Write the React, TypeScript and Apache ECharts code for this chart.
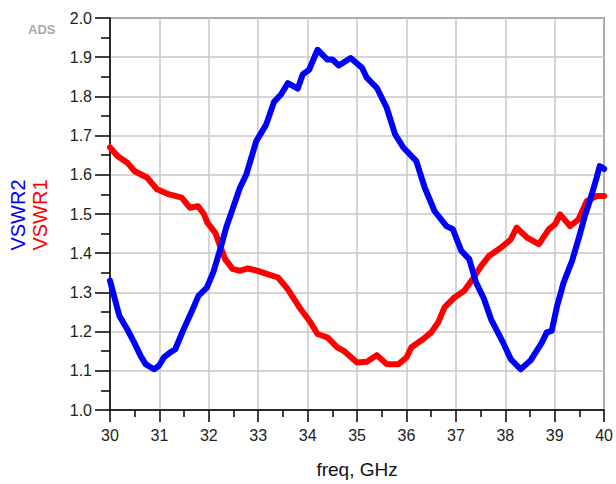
import React, { useEffect, useRef } from "react";
import * as echarts from "echarts";

const freq1 = [30.0, 30.15, 30.35, 30.5, 30.75, 30.95, 31.2, 31.45, 31.62, 31.78, 31.9, 31.97, 32.13, 32.23, 32.33, 32.48, 32.63, 32.79, 32.99, 33.2, 33.4, 33.6, 33.86, 34.06, 34.2, 34.4, 34.6, 34.73, 35.0, 35.2, 35.4, 35.6, 35.84, 36.0, 36.1, 36.34, 36.5, 36.64, 36.77, 36.97, 37.17, 37.34, 37.51, 37.67, 37.91, 38.11, 38.23, 38.44, 38.68, 38.88, 39.01, 39.11, 39.31, 39.48, 39.65, 39.85, 40.0];
const vswr1 = [1.670, 1.648, 1.631, 1.609, 1.593, 1.563, 1.550, 1.542, 1.516, 1.520, 1.500, 1.478, 1.452, 1.418, 1.385, 1.360, 1.355, 1.361, 1.355, 1.346, 1.338, 1.308, 1.257, 1.223, 1.194, 1.185, 1.160, 1.151, 1.121, 1.123, 1.140, 1.117, 1.117, 1.134, 1.160, 1.181, 1.198, 1.223, 1.262, 1.287, 1.304, 1.334, 1.367, 1.393, 1.414, 1.435, 1.465, 1.440, 1.423, 1.461, 1.474, 1.499, 1.469, 1.486, 1.533, 1.546, 1.546];

const freq2 = [30.0, 30.09, 30.19, 30.35, 30.49, 30.62, 30.72, 30.89, 30.99, 31.09, 31.22, 31.32, 31.49, 31.66, 31.79, 31.96, 32.09, 32.23, 32.36, 32.48, 32.63, 32.76, 32.96, 33.16, 33.32, 33.46, 33.6, 33.8, 33.9, 34.03, 34.2, 34.4, 34.5, 34.63, 34.87, 35.1, 35.2, 35.4, 35.6, 35.77, 35.94, 36.2, 36.37, 36.57, 36.81, 36.94, 37.11, 37.27, 37.41, 37.57, 37.71, 37.94, 38.11, 38.31, 38.51, 38.74, 38.84, 38.94, 39.05, 39.18, 39.35, 39.48, 39.61, 39.71, 39.85, 39.91, 40.0];
const vswr2 = [1.330, 1.287, 1.240, 1.206, 1.172, 1.138, 1.117, 1.104, 1.113, 1.134, 1.147, 1.155, 1.206, 1.253, 1.291, 1.312, 1.351, 1.410, 1.469, 1.512, 1.567, 1.601, 1.686, 1.728, 1.786, 1.805, 1.834, 1.820, 1.856, 1.868, 1.919, 1.894, 1.894, 1.879, 1.898, 1.873, 1.847, 1.822, 1.771, 1.703, 1.669, 1.635, 1.567, 1.507, 1.469, 1.461, 1.406, 1.385, 1.325, 1.283, 1.232, 1.176, 1.130, 1.104, 1.126, 1.172, 1.198, 1.202, 1.266, 1.325, 1.380, 1.435, 1.495, 1.533, 1.593, 1.622, 1.615];

const seriesNames = ["VSWR1", "VSWR2"];
const xTitle = "freq, GHz";

export default function App() {
  const ref = useRef<HTMLDivElement>(null);
  useEffect(() => {
    if (!ref.current) return;
    const chart = echarts.init(ref.current, null, { renderer: "svg" });
    const labelColor = "#222";
    const font = "Arial, 'Liberation Sans', sans-serif";
    chart.setOption({
      animation: false,
      backgroundColor: "#fff",
      grid: {
        left: 110,
        right: 7,
        top: 18,
        bottom: 73,
        show: true,
        borderColor: "#222",
        borderWidth: 1.5,
      },
      xAxis: {
        type: "value",
        min: 30,
        max: 40,
        interval: 1,
        name: xTitle,
        nameLocation: "middle",
        nameGap: 50,
        nameTextStyle: { fontSize: 19, color: "#111", fontFamily: font },
        axisLine: { show: true, onZero: false, lineStyle: { color: "#000", width: 1.5 } },
        axisTick: { show: true, length: 12, lineStyle: { color: "#000", width: 1.5 } },
        minorTick: { show: true, splitNumber: 2, length: 7, lineStyle: { color: "#000", width: 1.5 } },
        axisLabel: { fontSize: 16, color: labelColor, margin: 17, fontFamily: font },
        splitLine: { show: true, lineStyle: { color: "#c8c8c8", width: 1.5 } },
      },
      yAxis: {
        type: "value",
        min: 1,
        max: 2,
        interval: 0.1,
        axisLine: { show: true, onZero: false, lineStyle: { color: "#000", width: 1.5 } },
        axisTick: { show: true, length: 15, lineStyle: { color: "#000", width: 1.5 } },
        minorTick: { show: true, splitNumber: 2, length: 9, lineStyle: { color: "#000", width: 1.5 } },
        axisLabel: {
          fontSize: 16,
          color: labelColor,
          margin: 18,
          fontFamily: font,
          formatter: (v: number) => v.toFixed(1),
        },
        splitLine: { show: true, lineStyle: { color: "#c8c8c8", width: 1.5 } },
      },
      graphic: [
        {
          type: "text",
          left: 28,
          top: 23,
          style: { text: "ADS", fontSize: 13, fontWeight: "bold", fill: "#a8a8a8", fontFamily: font },
        },
        {
          type: "text",
          x: 18,
          y: 215,
          rotation: Math.PI / 2,
          style: {
            text: seriesNames[1],
            fontSize: 20,
            fill: "#0000ff",
            align: "center",
            verticalAlign: "middle",
            fontFamily: font,
          },
        },
        {
          type: "text",
          x: 40,
          y: 215,
          rotation: Math.PI / 2,
          style: {
            text: seriesNames[0],
            fontSize: 20,
            fill: "#ff0000",
            align: "center",
            verticalAlign: "middle",
            fontFamily: font,
          },
        },
      ],
      series: [
        {
          name: seriesNames[0],
          type: "line",
          data: freq1.map((f, i) => [f, vswr1[i]]),
          showSymbol: false,
          lineStyle: { color: "#ff0000", width: 6, join: "round", cap: "round" },
          itemStyle: { color: "#ff0000" },
        },
        {
          name: seriesNames[1],
          type: "line",
          data: freq2.map((f, i) => [f, vswr2[i]]),
          showSymbol: false,
          lineStyle: { color: "#0000ff", width: 6, join: "round", cap: "round" },
          itemStyle: { color: "#0000ff" },
        },
      ],
    });
    return () => chart.dispose();
  }, []);
  return (
    <div
      ref={ref}
      style={{ position: "fixed", left: 0, top: 0, width: 616, height: 484, background: "#fff" }}
    />
  );
}
